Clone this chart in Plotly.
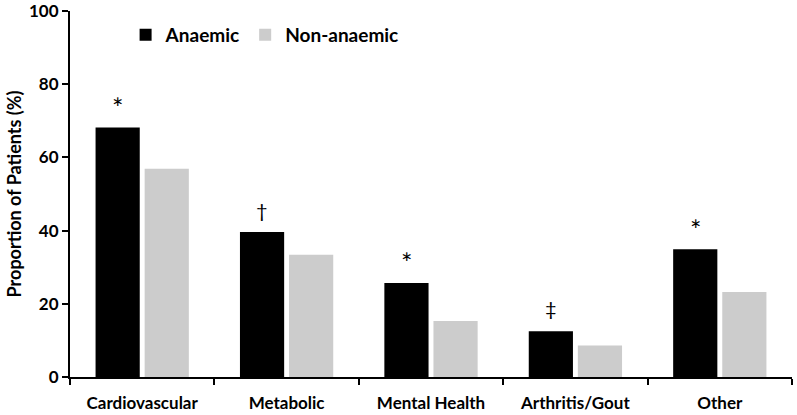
import plotly.graph_objects as go

categories = ["Cardiovascular", "Metabolic", "Mental Health", "Arthritis/Gout", "Other"]
anaemic = [68.2, 39.6, 25.7, 12.5, 34.9]
non_anaemic = [56.9, 33.4, 15.3, 8.6, 23.2]
markers = ["*", "†", "*", "‡", "*"]
y_ticks = [0, 20, 40, 60, 80, 100]

FONT = "Lato"

fig = go.Figure()
fig.add_trace(go.Bar(x=categories, y=anaemic, name="Anaemic",
                     marker=dict(color="#000000", line=dict(width=0))))
fig.add_trace(go.Bar(x=categories, y=non_anaemic, name="Non-anaemic",
                     marker=dict(color="#cccccc", line=dict(width=0))))

for i, (m, v) in enumerate(zip(markers, anaemic)):
    star = m == "*"
    fig.add_annotation(x=i - 0.17, y=v, xref="x", yref="y", text=m,
                       showarrow=False, yanchor="middle",
                       yshift=20 if star else (22 if m == "†" else 23),
                       font=dict(family=FONT, size=27 if star else 20, color="black"))

fig.update_layout(
    width=797, height=415,
    margin=dict(l=70, r=5, t=11, b=38, autoexpand=False),
    plot_bgcolor="white", paper_bgcolor="white",
    barmode="group", bargap=0.32, bargroupgap=0.1,
    font=dict(family=FONT, size=14, color="black"),
    showlegend=True,
    legend=dict(orientation="h", x=0.077, y=0.935, xanchor="left", yanchor="middle",
                font=dict(family=FONT, size=19, color="black", weight="bold"),
                itemwidth=30, tracegroupgap=0, bgcolor="rgba(0,0,0,0)"),
    xaxis=dict(range=[-0.5, 4.5], showline=True, linecolor="black", linewidth=2,
               ticks="outside", tickson="boundaries", ticklen=6, tickwidth=2,
               tickcolor="black", showgrid=False, automargin=False,
               ticklabelstandoff=10,
               tickfont=dict(family=FONT, size=17, color="black", weight="bold")),
    yaxis=dict(range=[0, 100], tickvals=y_ticks, showline=True, linecolor="black",
               linewidth=2, ticks="outside", ticklen=6, tickwidth=2, tickcolor="black",
               showgrid=False, zeroline=False, automargin=False,
               ticklabeloverflow="allow",
               title=dict(text="Proportion of Patients (%)", standoff=3,
                          font=dict(family=FONT, size=18, color="black", weight="bold")),
               tickfont=dict(family=FONT, size=17, color="black", weight="bold")),
)

fig.write_html("out.html", config={"displayModeBar": False},
               post_script="document.body.style.margin='0';document.body.style.padding='0';")
